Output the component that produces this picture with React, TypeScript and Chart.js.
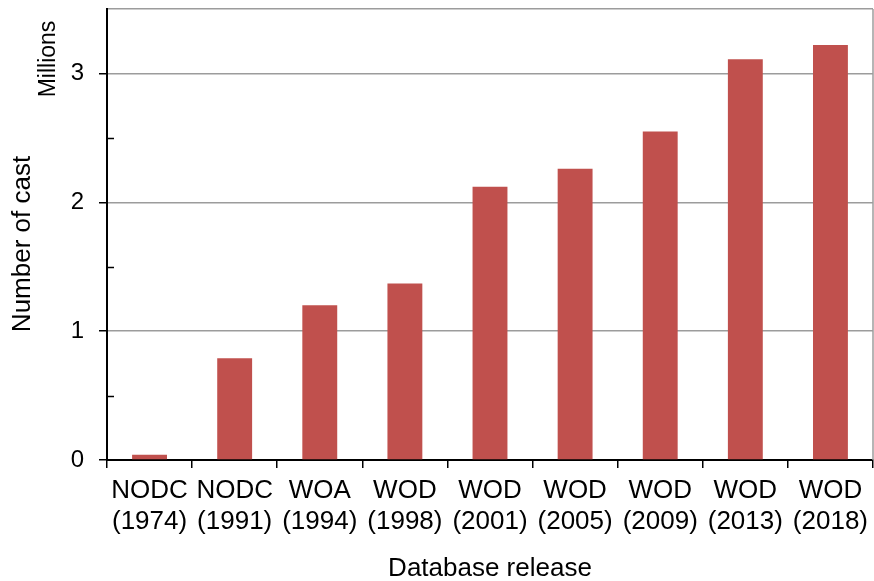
import React, { useEffect, useRef } from "react";
import { Chart, registerables } from "chart.js";

Chart.register(...registerables);

const categories: string[][] = [
  ["NODC", "(1974)"],
  ["NODC", "(1991)"],
  ["WOA", "(1994)"],
  ["WOD", "(1998)"],
  ["WOD", "(2001)"],
  ["WOD", "(2005)"],
  ["WOD", "(2009)"],
  ["WOD", "(2013)"],
  ["WOD", "(2018)"],
];
const casts: number[] = [0.04, 0.79, 1.2, 1.37, 2.12, 2.26, 2.55, 3.11, 3.22];
const yMin = 0;
const yMax = 3.5;
const yStep = 0.5;
const yTitle = "Number of cast";
const yUnit = "Millions";
const xTitle = "Database release";

const FONT = "'Liberation Sans', Arial, sans-serif";
const BAR = "#C0504D";
const GRID = "#9c9c9c";

const decorPlugin = {
  id: "decor",
  afterDraw(chart: any) {
    const { ctx, chartArea, scales } = chart;
    const y = scales.y;
    ctx.save();
    // right border
    ctx.strokeStyle = GRID;
    ctx.lineWidth = 1.5;
    ctx.beginPath();
    ctx.moveTo(chartArea.right, chartArea.top);
    ctx.lineTo(chartArea.right, chartArea.bottom);
    ctx.stroke();
    // minor inner ticks
    ctx.strokeStyle = "#000";
    ctx.lineWidth = 1.5;
    for (let v = yMin + yStep; v < yMax; v += yStep) {
      if (Math.abs(v - Math.round(v)) < 1e-6) continue;
      const py = Math.round(y.getPixelForValue(v)) + 0.5;
      ctx.beginPath();
      ctx.moveTo(chartArea.left, py);
      ctx.lineTo(chartArea.left + 7, py);
      ctx.stroke();
    }
    // axis titles
    ctx.fillStyle = "#000";
    ctx.textAlign = "center";
    ctx.textBaseline = "middle";
    ctx.font = `23px ${FONT}`;
    ctx.save();
    ctx.translate(49, 59);
    ctx.rotate(-Math.PI / 2);
    ctx.fillText(yUnit, 0, 0);
    ctx.restore();
    ctx.font = `26px ${FONT}`;
    ctx.save();
    ctx.translate(23, 244);
    ctx.rotate(-Math.PI / 2);
    ctx.fillText(yTitle, 0, 0);
    ctx.restore();
    ctx.restore();
  },
};

export default function App() {
  const ref = useRef<HTMLCanvasElement | null>(null);
  useEffect(() => {
    document.body.style.margin = "0";
    const N = categories.length;
    const chart = new Chart(ref.current as HTMLCanvasElement, {
      type: "bar",
      data: {
        labels: categories,
        datasets: [
          {
            data: casts,
            backgroundColor: BAR,
            borderWidth: 0,
            barPercentage: 0.41,
            categoryPercentage: 1,
          },
        ],
      },
      plugins: [decorPlugin],
      options: {
        animation: false,
        responsive: false,
        maintainAspectRatio: false,
        devicePixelRatio: 1,
        layout: { padding: { top: 9, right: 1, left: 0, bottom: 0 } },
        plugins: { legend: { display: false }, tooltip: { enabled: false } },
        scales: {
          x: {
            grid: {
              offset: true,
              drawOnChartArea: false,
              drawTicks: true,
              tickLength: 8,
              lineWidth: 1.5,
              color: (c: any) => (c.index >= N ? "rgba(0,0,0,0)" : "#000"),
              tickColor: (c: any) => (c.index >= N ? "rgba(0,0,0,0)" : "#000"),
            },
            border: { display: true, color: "#000", width: 2 },
            ticks: {
              color: "#000",
              font: { family: FONT, size: 26 },
              padding: 7,
              maxRotation: 0,
              autoSkip: false,
            },
            title: {
              display: true,
              text: xTitle,
              color: "#000",
              font: { family: FONT, size: 26 },
              padding: { top: 0, bottom: -3 },
            },
            afterFit: (s: any) => {
              s.height = 121;
              s.paddingLeft = 0;
              s.paddingRight = 0;
            },
          },
          y: {
            min: yMin,
            max: yMax,
            ticks: {
              stepSize: yStep,
              color: "#000",
              font: { family: FONT, size: 24 },
              padding: 15,
              callback: (v: any) =>
                Math.abs(Number(v) - Math.round(Number(v))) < 1e-6 ? String(Math.round(Number(v))) : "",
            },
            grid: {
              drawTicks: true,
              tickLength: 8,
              lineWidth: 1.5,
              color: (c: any) => {
                const v = c.tick ? c.tick.value : 0;
                if (v === 0) return "rgba(0,0,0,0)";
                if (Math.abs(v - yMax) < 1e-6) return GRID;
                return Math.abs(v - Math.round(v)) < 1e-6 ? GRID : "rgba(0,0,0,0)";
              },
              tickColor: (c: any) => {
                const v = c.tick ? c.tick.value : 0;
                return Math.abs(v - Math.round(v)) < 1e-6 ? "#000" : "rgba(0,0,0,0)";
              },
            },
            border: { display: true, color: "#000", width: 2 },
            afterFit: (s: any) => {
              s.width = 107;
              s.paddingTop = 0;
              s.paddingBottom = 0;
            },
          },
        },
      },
    });
    return () => chart.destroy();
  }, []);
  return (
    <div style={{ position: "absolute", left: 0, top: 0, width: 874, height: 581, background: "#fff" }}>
      <canvas ref={ref} width={874} height={581} style={{ width: 874, height: 581 }} />
    </div>
  );
}
